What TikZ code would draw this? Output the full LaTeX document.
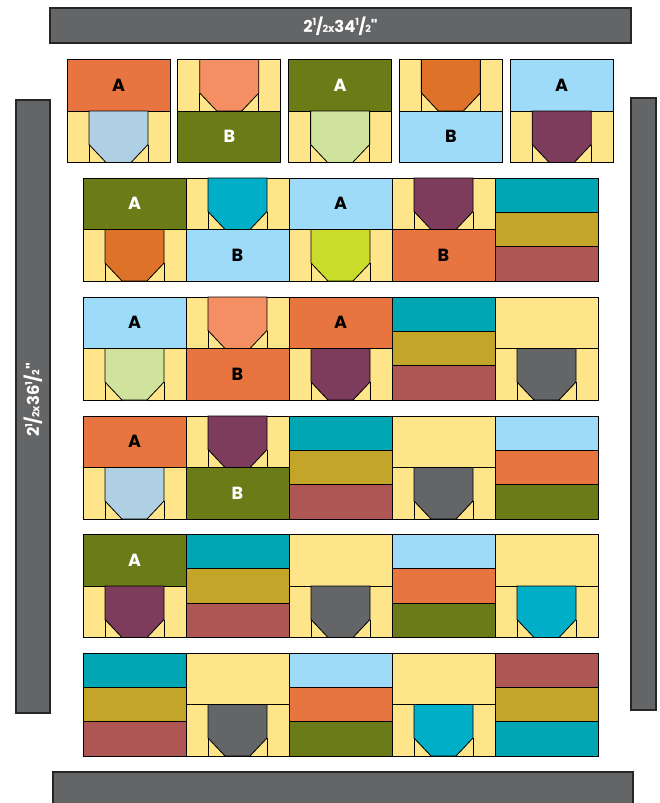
\documentclass[tikz,border=0pt]{standalone}
\usepackage{fontspec}
\newfontfamily\labelfont{Poppins}

\definecolor{qyellow}{HTML}{FEE58A}
\definecolor{qorange}{HTML}{E87440}
\definecolor{qsalmon}{HTML}{F48F63}
\definecolor{qolive}{HTML}{6A7B17}
\definecolor{qsage}{HTML}{CFE39D}
\definecolor{qrust}{HTML}{DD7228}
\definecolor{qsky}{HTML}{9DDBF8}
\definecolor{qplum}{HTML}{7E3C5C}
\definecolor{qpale}{HTML}{AFD0E2}
\definecolor{qcyan}{HTML}{00AEC7}
\definecolor{qlime}{HTML}{CADC2B}
\definecolor{qteal}{HTML}{00A6B3}
\definecolor{qgold}{HTML}{C3A52A}
\definecolor{qbrick}{HTML}{AE5654}
\definecolor{qgray}{HTML}{646567}

\tikzset{
  seam/.style={draw=black, line width=0.7pt},
  patch/.style={seam, fill=#1},
  bar/.style={fill=qgray, draw=black!85, line width=0.9pt},
  lbl/.style={font={\labelfont\bfseries\fontsize{15}{15}\selectfont}, text=#1},
  cut/.style={font={\labelfont\bfseries\fontsize{14}{14}\selectfont}, text=white},
}

% fraction 1/2 and the small x of the cut sizes
\newcommand{\hlf}{\raisebox{0.42em}{\scalebox{0.6}{1}}\kern-0.04em/\kern-0.04em\scalebox{0.6}{2}}
\newcommand{\bysign}{\scalebox{0.65}{x}}

% half blocks (103 x 51.5, top left corner given)
\newcommand{\plainhalf}[3]{\path[patch=#3] (#1,#2) rectangle ++(103,51.5);}
\newcommand{\goosehalf}[3]{%
  \path[patch=qyellow] (#1,#2) rectangle ++(103,51.5);
  \path[patch=#3] (#1+22,#2) -- (#1+81,#2) -- (#1+81,#2+33.5) -- (#1+64,#2+51.5)
    -- (#1+39,#2+51.5) -- (#1+22,#2+33.5) -- cycle;
  \draw[seam] (#1+22,#2+33.5) -- (#1+22,#2+51.5);
  \draw[seam] (#1+81,#2+33.5) -- (#1+81,#2+51.5);
}
% whole blocks
\newcommand{\blockAG}[6]{% A on top, goose below
  \plainhalf{#1}{#2}{#4}
  \node[lbl=#5] (#3) at (#1+51.5,#2+25.5) {A};
  \goosehalf{#1}{#2+51.5}{#6}
}
\newcommand{\blockGB}[6]{% goose on top, B below
  \goosehalf{#1}{#2}{#4}
  \plainhalf{#1}{#2+51.5}{#5}
  \node[lbl=#6] (#3) at (#1+51.5,#2+77) {B};
}
\newcommand{\blockYG}[3]{% plain yellow on top, goose below
  \plainhalf{#1}{#2}{qyellow}
  \goosehalf{#1}{#2+51.5}{#3}
}
\newcommand{\stripeblock}[5]{%
  \path[patch=#3] (#1,#2) rectangle ++(103,34.33);
  \path[patch=#4] (#1,#2+34.33) rectangle ++(103,34.33);
  \path[patch=#5] (#1,#2+68.67) rectangle ++(103,34.33);
}

\begin{document}
\begin{tikzpicture}[x=0.03cm, y=-0.03cm]
  \path[fill=white, use as bounding box] (0,0) rectangle (659,803);
  \clip (0,0) rectangle (659,803);

  % Borders
  \path[bar] (50,8) rectangle (631,43);
  \node[cut] (toplen) at (340.5,26) {2\hlf\bysign34\hlf"};
  \path[bar] (16,100) rectangle (50,713);
  \node[cut, rotate=90] (sidelen) at (33,400) {2\hlf\bysign36\hlf"};
  \path[bar] (631,98) rectangle (656,710);
  \path[bar] (53,772) rectangle (633,810);

  % Row 1 (separate blocks)
  \blockAG{67}{59.5}{a1}{qorange}{black}{qpale}
  \blockGB{177.8}{59.5}{b1}{qsalmon}{qolive}{white}
  \blockAG{288.6}{59.5}{a2}{qolive}{white}{qsage}
  \blockGB{399.4}{59.5}{b2}{qrust}{qsky}{black}
  \blockAG{510.2}{59.5}{a3}{qsky}{black}{qplum}

  % Row 2
  \blockAG{83}{178}{a4}{qolive}{white}{qrust}
  \blockGB{186}{178}{b3}{qcyan}{qsky}{black}
  \blockAG{289}{178}{a5}{qsky}{black}{qlime}
  \blockGB{392}{178}{b4}{qplum}{qorange}{black}
  \stripeblock{495}{178}{qteal}{qgold}{qbrick}

  % Row 3
  \blockAG{83}{297}{a6}{qsky}{black}{qsage}
  \blockGB{186}{297}{b5}{qsalmon}{qorange}{black}
  \blockAG{289}{297}{a7}{qorange}{black}{qplum}
  \stripeblock{392}{297}{qteal}{qgold}{qbrick}
  \blockYG{495}{297}{qgray}

  % Row 4
  \blockAG{83}{416}{a8}{qorange}{black}{qpale}
  \blockGB{186}{416}{b6}{qplum}{qolive}{white}
  \stripeblock{289}{416}{qteal}{qgold}{qbrick}
  \blockYG{392}{416}{qgray}
  \stripeblock{495}{416}{qsky}{qorange}{qolive}

  % Row 5
  \blockAG{83}{534.5}{a9}{qolive}{white}{qplum}
  \stripeblock{186}{534.5}{qteal}{qgold}{qbrick}
  \blockYG{289}{534.5}{qgray}
  \stripeblock{392}{534.5}{qsky}{qorange}{qolive}
  \blockYG{495}{534.5}{qcyan}

  % Row 6
  \stripeblock{83}{653}{qteal}{qgold}{qbrick}
  \blockYG{186}{653}{qgray}
  \stripeblock{289}{653}{qsky}{qorange}{qolive}
  \blockYG{392}{653}{qcyan}
  \stripeblock{495}{653}{qbrick}{qgold}{qteal}
\end{tikzpicture}
\end{document}
